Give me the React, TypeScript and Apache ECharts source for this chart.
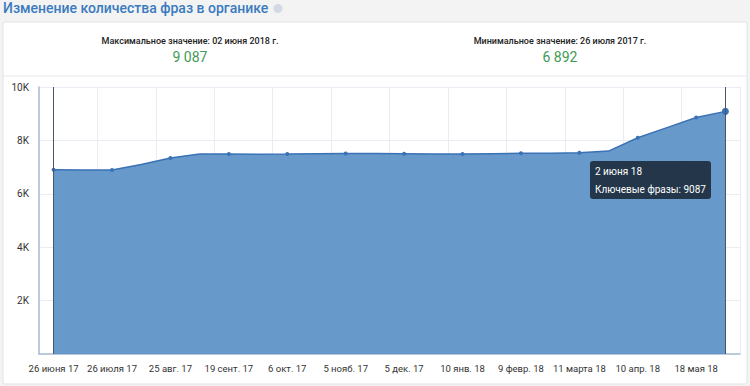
import React, { useEffect, useRef } from "react";
import * as echarts from "echarts";

const categories = [
  "26 июня 17", "11 июля 17", "26 июля 17", "10 авг. 17", "25 авг. 17", "5 сент. 17",
  "19 сент. 17", "28 сент. 17", "6 окт. 17", "20 окт. 17", "5 нояб. 17", "20 нояб. 17",
  "5 дек. 17", "20 дек. 17", "10 янв. 18", "25 янв. 18", "9 февр. 18", "24 февр. 18",
  "11 марта 18", "26 марта 18", "10 апр. 18", "25 апр. 18", "18 мая 18", "2 июня 18",
];
const phraseValues = [
  6900, 6895, 6892, 7100, 7340, 7490, 7490, 7485, 7490, 7500, 7510, 7505,
  7500, 7495, 7490, 7500, 7515, 7520, 7540, 7600, 8100, 8480, 8860, 9087,
];
const seriesName = "Ключевые фразы";
const titleText = "Изменение количества фраз в органике";
const maxLabel = "Максимальное значение: 02 июня 2018 г.";
const maxValue = "9 087";
const minLabel = "Минимальное значение: 26 июля 2017 г.";
const minValue = "6 892";

export default function App() {
  const ref = useRef<HTMLDivElement>(null);
  useEffect(() => {
    if (!ref.current) return;
    const chart = echarts.init(ref.current, undefined, { renderer: "svg" });
    const last = phraseValues.length - 1;
    chart.setOption({
      animation: false,
      backgroundColor: "#f3f3f3",
      textStyle: { fontFamily: "Roboto" },
      graphic: [
        { type: "rect", z: -10, shape: { x: 3, y: 22, width: 744, height: 362, r: 2 }, style: { fill: "#ffffff", stroke: "#e3e3e3", lineWidth: 1 } },
        { type: "line", z: -9, shape: { x1: 3, y1: 76, x2: 747, y2: 76 }, style: { stroke: "#e6e9ee", lineWidth: 1 } },
        { type: "text", x: 3, y: 1, style: { text: titleText, fill: "#3a7bbf", font: "500 14px Roboto" } },
        { type: "circle", shape: { cx: 278, cy: 8.5, r: 4.5 }, style: { fill: "#d3dae3" } },
        { type: "text", x: 190, y: 41, style: { text: maxLabel, fill: "#222", font: "500 9px Roboto", align: "center", verticalAlign: "middle" } },
        { type: "text", x: 190, y: 57, style: { text: maxValue, fill: "#3f9a55", font: "14px Roboto", align: "center", verticalAlign: "middle" } },
        { type: "text", x: 560, y: 41, style: { text: minLabel, fill: "#222", font: "500 9px Roboto", align: "center", verticalAlign: "middle" } },
        { type: "text", x: 560, y: 57, style: { text: minValue, fill: "#3f9a55", font: "14px Roboto", align: "center", verticalAlign: "middle" } },
        { type: "rect", z: 200, zlevel: 1, shape: { x: 590, y: 161, width: 121, height: 38, r: 3 }, style: { fill: "#24364a" } },
        { type: "text", z: 201, zlevel: 1, x: 595, y: 171, style: { text: categories[last], fill: "#ffffff", font: "10px Roboto", verticalAlign: "middle" } },
        { type: "text", z: 201, zlevel: 1, x: 595, y: 189, style: { text: seriesName + ": " + phraseValues[last], fill: "#ffffff", font: "10px Roboto", verticalAlign: "middle" } },
      ],
      grid: { left: 39, right: 10, top: 87, bottom: 32, containLabel: false },
      xAxis: {
        type: "category",
        data: categories,
        boundaryGap: true,
        axisLine: { show: true, lineStyle: { color: "#a9bcd6", width: 1.5 } },
        axisTick: { show: false },
        axisLabel: { interval: 1, color: "#333", fontSize: 9.5, margin: 9 },
        splitLine: { show: true, interval: 1, lineStyle: { color: "#e9edf3", width: 1 } },
      },
      yAxis: {
        type: "value",
        min: 0,
        max: 10000,
        interval: 2000,
        axisLine: { show: true, lineStyle: { color: "#a9bcd6", width: 1.5 } },
        axisTick: { show: false },
        axisLabel: {
          color: "#333",
          fontSize: 10,
          margin: 10,
          formatter: (v: number) => (v === 0 ? "" : v / 1000 + "K"),
        },
        splitLine: { show: true, lineStyle: { color: "#e9edf3", width: 1 } },
      },
      series: [
        {
          type: "line",
          name: seriesName,
          data: phraseValues,
          symbol: "circle",
          symbolSize: (_v: any, p: any) =>
            p.dataIndex === last ? 7 : p.dataIndex % 2 === 0 ? 4 : 0,
          showAllSymbol: true,
          lineStyle: { color: "#3a72b5", width: 1.5 },
          itemStyle: { color: "#3a72b5" },
          areaStyle: { color: "#5a90c6", opacity: 0.92 },
          markLine: {
            silent: true,
            symbol: "none",
            label: { show: false },
            lineStyle: { color: "#4a5568", width: 1, type: "solid" },
            data: [{ xAxis: 0 }, { xAxis: last }],
          },
        },
      ],
    });
    return () => chart.dispose();
  }, []);
  return (
    <div style={{ position: "fixed", left: 0, top: 0, width: 750, height: 386 }}>
      <div ref={ref} style={{ width: 750, height: 386 }} />
    </div>
  );
}
